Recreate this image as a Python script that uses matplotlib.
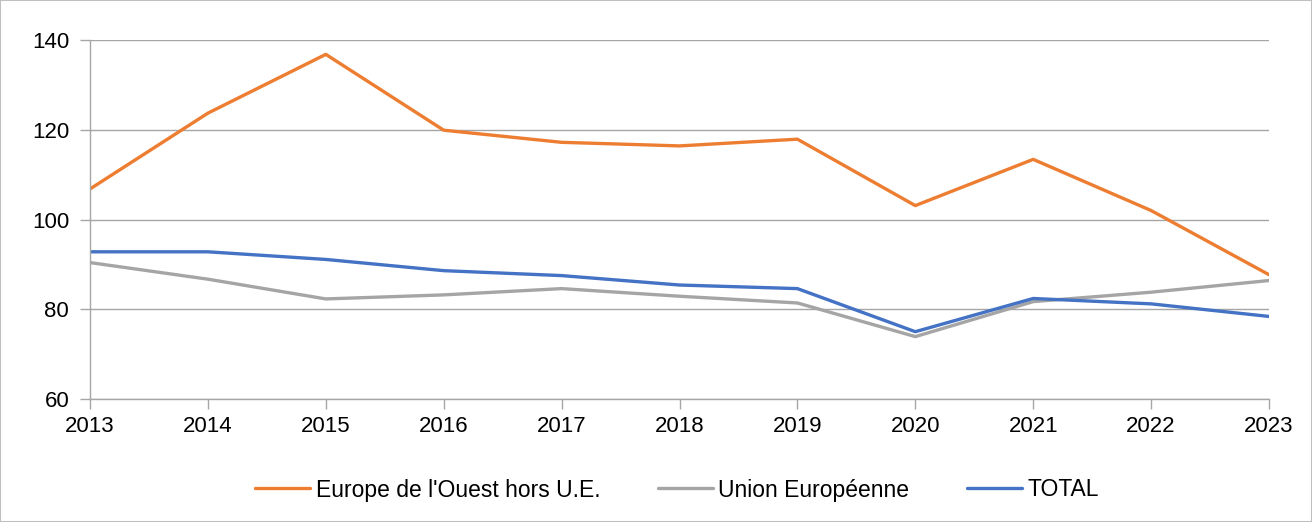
import matplotlib.pyplot as plt
from matplotlib.patches import Rectangle

years = [2013, 2014, 2015, 2016, 2017, 2018, 2019, 2020, 2021, 2022, 2023]
europe_ouest = [106.8, 123.7, 136.8, 119.9, 117.2, 116.4, 117.9, 103.1, 113.4, 102.0, 87.7]
union_eur = [90.4, 86.7, 82.3, 83.2, 84.6, 82.9, 81.4, 73.9, 81.7, 83.8, 86.4]
total = [92.8, 92.8, 91.1, 88.6, 87.5, 85.4, 84.6, 75.0, 82.4, 81.2, 78.4]

labels = ["Europe de l'Ouest hors U.E.", "Union Européenne", "TOTAL"]
colors = ["#ED7D31", "#A5A5A5", "#4472C4"]

plt.rcParams['font.family'] = ['Liberation Sans', 'DejaVu Sans']

fig = plt.figure(figsize=(13.12, 5.22), dpi=100)
ax = fig.add_axes([90 / 1312, 1 - 399 / 522, (1269 - 90) / 1312, (399 - 40) / 522])

for series, label, color in zip([europe_ouest, union_eur, total], labels, colors):
    ax.plot(years, series, color=color, linewidth=2.4, label=label, solid_capstyle='round')

ax.set_xlim(2013, 2023)
ax.set_ylim(60, 140)
ax.set_xticks(years)
ax.set_yticks([60, 80, 100, 120, 140])
ax.grid(axis='y', color='#A6A6A6', linewidth=1)
ax.set_axisbelow(True)
for side in ['top', 'right']:
    ax.spines[side].set_visible(False)
for side in ['left', 'bottom']:
    ax.spines[side].set_color('#A6A6A6')
    ax.spines[side].set_linewidth(1)
ax.tick_params(axis='both', colors='#A6A6A6', labelcolor='black', labelsize=16, length=7, width=1)
ax.tick_params(axis='x', pad=5)
ax.tick_params(axis='y', pad=8)

fig.legend(loc='center', bbox_to_anchor=(0.516, 1 - 490 / 522), ncol=3, frameon=False,
           fontsize=16.5, handlelength=2.4, columnspacing=2.5, handletextpad=0.25)

fig.patches.append(Rectangle((0, 0), 1, 1, transform=fig.transFigure, fill=False,
                             edgecolor='#BFBFBF', linewidth=1.5))

fig.savefig("out.png", dpi=100)
